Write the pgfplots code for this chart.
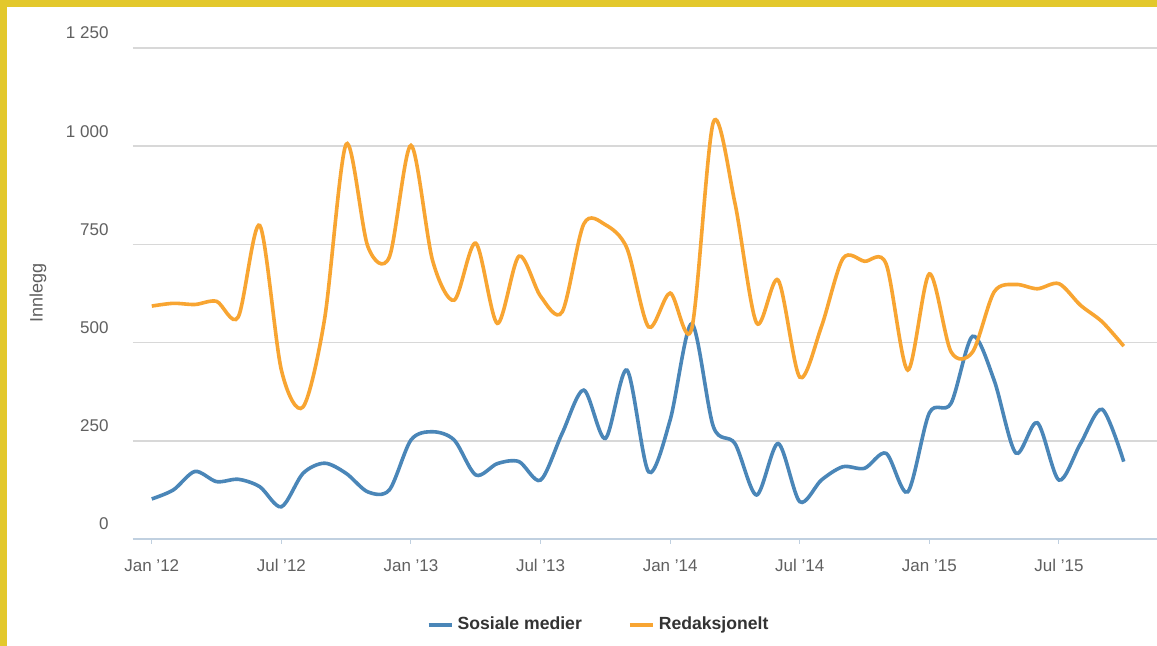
\documentclass[border=0pt]{standalone}
\usepackage{pgfplots}
\pgfplotsset{compat=1.18}
\usepackage{fontspec}
\setmainfont{Liberation Sans}
\definecolor{frameyellow}{RGB}{227,200,44}
\definecolor{gridcol}{RGB}{216,216,216}
\definecolor{axiscol}{RGB}{192,208,224}
\definecolor{tickcol}{RGB}{96,96,96}
\definecolor{legcol}{RGB}{51,51,51}
\definecolor{sosblue}{RGB}{74,134,184}
\definecolor{redorange}{RGB}{248,165,50}

\pgfplotstableread{
i v
0 102
1 125
2 172
3 146
4 152
5 133
6 82
7 167
8 193
9 167
10 120
11 125
12 252
13 273
14 252
15 163
16 192
17 197
18 150
19 269
20 379
21 256
22 430
23 171
24 303
25 548
26 286
27 243
28 112
29 243
30 95
31 150
32 184
33 180
34 218
35 120
36 321
37 345
38 516
39 404
40 219
41 296
42 150
43 243
44 330
45 197
}\sosiale

\pgfplotstableread{
i v
0 593
1 600
2 597
3 605
4 565
5 798
6 430
7 336
8 560
9 1005
10 745
11 718
12 1002
13 709
14 608
15 753
16 549
17 720
18 618
19 578
20 802
21 800
22 740
23 540
24 626
25 536
26 1061
27 855
28 550
29 659
30 412
31 540
32 714
33 707
34 700
35 430
36 675
37 477
38 476
39 629
40 648
41 637
42 650
43 595
44 553
45 491
}\redaksjonelt

\begin{document}
\begin{tikzpicture}[x=1pt,y=1pt]
\fill[frameyellow] (-66.5,-53.5) rectangle (512,269.5);
\fill[white] (-63,-53.5) rectangle (512,266);
\begin{axis}[
  at={(0,0)}, anchor=south west,
  scale only axis, width=512pt, height=245.5pt,
  xmin=-0.87, xmax=46.54, ymin=0, ymax=1250,
  axis x line=bottom, axis y line=left,
  axis line style={-},
  x axis line style={draw=axiscol, line width=0.6pt},
  y axis line style={draw=none},
  xtick={0,6,...,42},
  xticklabels={Jan '12,Jul '12,Jan '13,Jul '13,Jan '14,Jul '14,Jan '15,Jul '15},
  ytick={0,250,...,1250},
  yticklabels={0,250,500,750,1 000,1 250},
  ymajorgrids, grid style={line width=0.75pt, gridcol},
  ytick style={draw=none},
  xtick style={draw=axiscol, line width=0.5pt},
  major tick length=2.5pt,
  tick align=outside,
  tick label style={font=\fontsize{8.5}{10}\selectfont, text=tickcol},
  yticklabel style={anchor=east, xshift=-6.2pt, yshift=7.5pt},
  xticklabel style={text height=6.2pt, text depth=1.8pt, yshift=-4pt},
  ylabel={Innlegg},
  ylabel style={at={(axis description cs:-0.0928,0.502)}, anchor=center, font=\fontsize{9}{10}\selectfont, text=tickcol},
  legend columns=2,
  legend cell align=left,
  legend style={draw=none, fill=none, at={(0.4556,-0.175)}, anchor=center,
    font=\bfseries\fontsize{8.8}{10}\selectfont, text=legcol, inner sep=0pt,
    /tikz/every even column/.append style={column sep=21pt}},
  legend image code/.code={\draw[#1, line width=2pt] (0pt,0pt) -- (11.5pt,0pt);},
]
\addplot[sosblue, line width=1.8pt, smooth, tension=0.5] table[x=i, y=v] {\sosiale};
\addlegendentry{Sosiale medier}
\addplot[redorange, line width=1.8pt, smooth, tension=0.5] table[x=i, y=v] {\redaksjonelt};
\addlegendentry{Redaksjonelt}
\end{axis}
\pgfresetboundingbox
\useasboundingbox (-66.5,-53.5) rectangle (512,269.5);
\end{tikzpicture}
\end{document}
